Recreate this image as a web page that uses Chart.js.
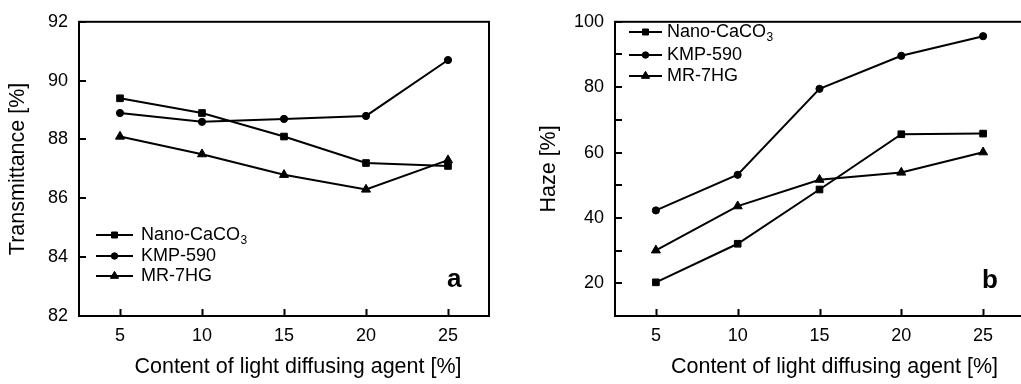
<!DOCTYPE html>
<html><head><meta charset="utf-8">
<script src="https://cdn.jsdelivr.net/npm/chart.js@4"></script>
<style>
html,body{margin:0;padding:0;background:#fff;overflow:hidden;width:1021px;height:384px;position:relative;}
#ca{position:absolute;left:0;top:0;}
#cb{position:absolute;left:510px;top:0;}
</style></head><body>
<canvas id="ca" width="510" height="384"></canvas>
<canvas id="cb" width="530" height="384"></canvas>
<script>
const FONT = '"Liberation Sans", Arial, Helvetica, sans-serif';

// ---- data ----
const categories = [5, 10, 15, 20, 25];
const seriesNames = ['Nano-CaCO\u2083', 'KMP-590', 'MR-7HG'];
const transNano = [89.4, 88.9, 88.1, 87.2, 87.1];
const transKMP  = [88.9, 88.6, 88.7, 88.8, 90.7];
const transMR   = [88.1, 87.5, 86.8, 86.3, 87.3];
const hazeNano  = [20.3, 32.1, 48.7, 65.6, 65.8];
const hazeKMP   = [42.3, 53.2, 79.5, 89.6, 95.6];
const hazeMR    = [30.1, 43.6, 51.7, 53.9, 60.1];
const xTicks = [5, 10, 15, 20, 25];
const transTicks = [82, 84, 86, 88, 90, 92];
const hazeTicks = [10, 20, 30, 40, 50, 60, 70, 80, 90, 100];
const hazeLabels = [20, 40, 60, 80, 100];

const styles = [
  {pointStyle: 'rect', pointRadius: 4.7},
  {pointStyle: 'circle', pointRadius: 3.6},
  {pointStyle: 'triangle', pointRadius: 5.2}
];

function makeDatasets(seriesList) {
  return seriesList.map((vals, i) => ({
    label: seriesNames[i],
    data: categories.map((c, j) => ({x: c, y: vals[j]})),
    borderColor: '#000',
    backgroundColor: '#000',
    borderWidth: 2,
    pointStyle: styles[i].pointStyle,
    pointRadius: styles[i].pointRadius,
    pointHoverRadius: styles[i].pointRadius,
    pointBackgroundColor: '#000',
    pointBorderColor: '#000',
    pointBorderWidth: 1,
    tension: 0,
    clip: false
  }));
}

const framePlugin = {
  id: 'frame',
  beforeDraw(chart, args, opts) {
    const s = chart.scales.x;
    if (!s._shiftedTitle) {
      const orig = s.drawTitle;
      s.drawTitle = function (...a) {
        this.ctx.save();
        this.ctx.translate(opts.titleShift, 0);
        orig.apply(this, a);
        this.ctx.restore();
      };
      s._shiftedTitle = true;
    }
  },
  afterDraw(chart, args, opts) {
    const ctx = chart.ctx, a = chart.chartArea;
    const xs = chart.scales.x, ys = chart.scales.y;
    ctx.save();
    ctx.strokeStyle = '#000';
    ctx.lineWidth = 2;
    ctx.strokeRect(a.left, a.top, a.right - a.left, a.bottom - a.top);
    ctx.beginPath();
    xs.ticks.forEach(t => {
      const px = Math.round(xs.getPixelForValue(t.value)) + 0.5;
      ctx.moveTo(px, a.bottom); ctx.lineTo(px, a.bottom - 7);
    });
    ys.ticks.forEach(t => {
      const py = Math.round(ys.getPixelForValue(t.value));
      ctx.moveTo(a.left, py); ctx.lineTo(a.left + 7, py);
    });
    ctx.stroke();

    // legend inside plot
    chart.data.datasets.forEach((ds, i) => {
      const yy = opts.legendY[i];
      ctx.strokeStyle = '#000'; ctx.fillStyle = '#000'; ctx.lineWidth = 2;
      ctx.beginPath(); ctx.moveTo(opts.legendX0, yy); ctx.lineTo(opts.legendX1, yy); ctx.stroke();
      ctx.lineWidth = 1;
      Chart.helpers.drawPoint(ctx, {pointStyle: ds.pointStyle, radius: ds.pointRadius * 0.9, borderWidth: 1, rotation: 0},
        (opts.legendX0 + opts.legendX1) / 2, yy);
      ctx.font = '18px ' + FONT;
      ctx.textBaseline = 'middle';
      ctx.textAlign = 'left';
      const label = ds.label;
      const sub = label.match(/[\u2080-\u2089]$/);
      if (sub) {
        const main = label.slice(0, -1);
        ctx.fillText(main, opts.textX, yy);
        const w = ctx.measureText(main).width;
        ctx.font = '12px ' + FONT;
        ctx.fillText(String(sub[0].charCodeAt(0) - 0x2080), opts.textX + w + 0.5, yy + 6);
      } else {
        ctx.fillText(label, opts.textX, yy);
      }
    });

    ctx.font = 'bold 26px ' + FONT;
    ctx.textBaseline = 'alphabetic';
    ctx.textAlign = 'left';
    ctx.fillStyle = '#000';
    ctx.fillText(opts.letter, opts.letterX, opts.letterY);
    ctx.restore();
  }
};

function makeChart(id, cfg) {
  return new Chart(document.getElementById(id), {
    type: 'line',
    data: {datasets: makeDatasets(cfg.series)},
    plugins: [framePlugin],
    options: {
      responsive: false,
      animation: false,
      events: [],
      layout: {padding: {left: 0, top: 14, right: cfg.padRight, bottom: 0}},
      plugins: {
        legend: {display: false},
        tooltip: {enabled: false},
        frame: cfg.frame
      },
      scales: {
        x: {
          type: 'linear',
          min: 2.5, max: 27.5,
          afterBuildTicks: s => { s.ticks = xTicks.map(v => ({value: v})); },
          afterFit: s => { s.height = 68; },
          grid: {display: false, drawTicks: false},
          border: {display: false},
          ticks: {font: {size: 18, family: FONT}, color: '#000', padding: 9, autoSkip: false, maxRotation: 0},
          title: {display: true, text: 'Content of light diffusing agent [%]', color: '#000',
                  font: {size: 21.5, family: FONT}, padding: {top: 0, bottom: 4}}
        },
        y: {
          type: 'linear',
          min: cfg.yMin, max: cfg.yMax,
          afterBuildTicks: s => { s.ticks = cfg.yTicks.map(v => ({value: v})); },
          afterFit: s => { s.width = cfg.yWidth; },
          grid: {display: false, drawTicks: false},
          border: {display: false},
          ticks: {font: {size: 18, family: FONT}, color: '#000', padding: 11, autoSkip: false,
                  callback: cfg.yCallback},
          title: {display: true, text: cfg.yTitle, color: '#000',
                  font: {size: 21.5, family: FONT}, padding: {top: cfg.yTitlePad, bottom: 0}}
        }
      }
    }
  });
}

makeChart('ca', {
  series: [transNano, transKMP, transMR],
  padRight: 21,
  yMin: 82, yMax: 92,
  yTicks: transTicks,
  yWidth: 79,
  yTitle: 'Transmittance [%]',
  yTitlePad: 5,
  yCallback: v => String(v),
  frame: {titleShift: 14, legendX0: 96, legendX1: 133, textX: 141, legendY: [235, 256, 276],
          letter: 'a', letterX: 447, letterY: 287}
});

makeChart('cb', {
  series: [hazeNano, hazeKMP, hazeMR],
  padRight: 16,
  yMin: 10, yMax: 100,
  yTicks: hazeTicks,
  yWidth: 105,
  yTitle: 'Haze [%]',
  yTitlePad: 26,
  yCallback: v => (hazeLabels.includes(v) ? String(v) : ''),
  frame: {titleShift: 15, legendX0: 119, legendX1: 152, textX: 157, legendY: [32, 55, 76],
          letter: 'b', letterX: 472, letterY: 288}
});
</script>
</body></html>
